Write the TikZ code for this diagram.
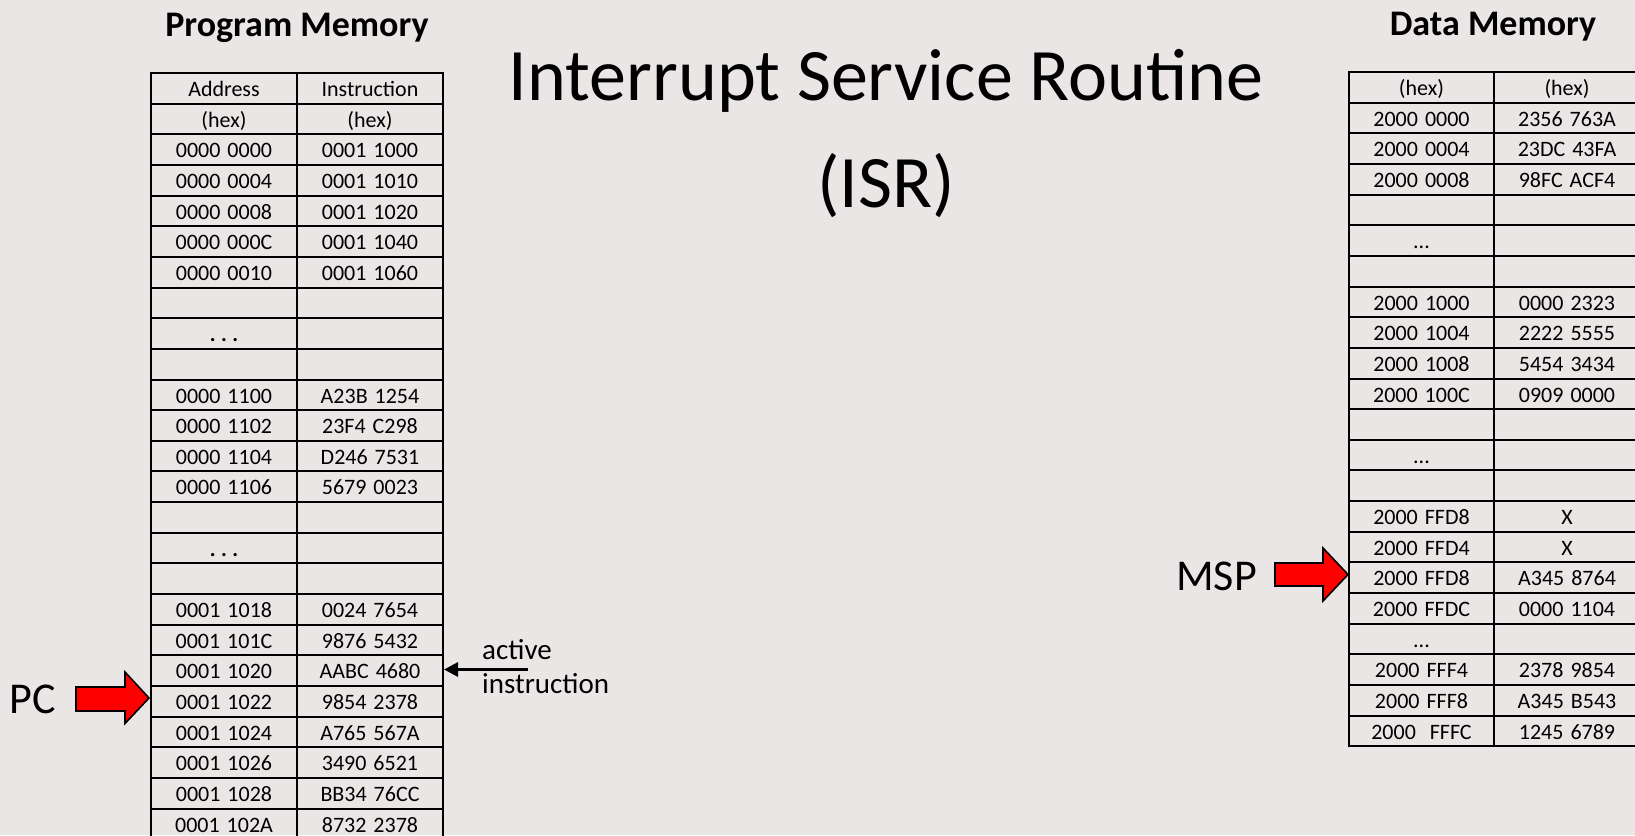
\documentclass[tikz,border=0pt]{standalone}
\usepackage{fontspec}
\setmainfont{Carlito}
\newfontfamily\tabfont{Carlito}[WordSpace=1.4]
\usetikzlibrary{arrows.meta}
\definecolor{bgc}{RGB}{234,230,229}
\definecolor{arrowred}{RGB}{255,0,0}
\begin{document}
\begin{tikzpicture}[x=1bp,y=-1bp,
  cell/.style={draw=black,line width=2bp,minimum width=146bp,minimum height=30.65bp,
    inner sep=0pt,text height=20bp,text depth=3.6bp,anchor=north west,
    font=\tabfont\fontsize{22bp}{26bp}\selectfont},
  lbl/.style={inner sep=0pt,anchor=base west},
  redarrow/.style={fill=arrowred,draw=black,line width=1.6bp,line join=miter},
  actarrow/.style={draw=black,line width=3bp,-{Triangle[length=14bp,width=14bp]}}]
\useasboundingbox (0,0) rectangle (1635,835);
\clip (0,0) rectangle (1635,835);
\fill[bgc] (0,0) rectangle (1635,835);

% titles
\node[font=\fontsize{74bp}{80bp}\selectfont,anchor=base,inner sep=0pt] (title) at (886,100) {Interrupt Service Routine};
\node[font=\fontsize{74bp}{80bp}\selectfont,anchor=base,inner sep=0pt] (isr) at (886,207) {(ISR)};
\node[font=\bfseries\fontsize{36bp}{40bp}\selectfont,anchor=base,inner sep=0pt] (pm) at (297,36) {Program Memory};
\node[font=\bfseries\fontsize{36bp}{40bp}\selectfont,anchor=base,inner sep=0pt] (dm) at (1493,35) {Data Memory};

% program memory table
\foreach \a/\b [count=\i from 0] in {
  Address/Instruction, {(hex)}/{(hex)},
  0000 0000/0001 1000, 0000 0004/0001 1010, 0000 0008/0001 1020,
  0000 000C/0001 1040, 0000 0010/0001 1060,
  {}/{}, {{\fontsize{27bp}{30bp}\selectfont .\,.\,.}}/{}, {}/{},
  0000 1100/A23B 1254, 0000 1102/23F4 C298, 0000 1104/D246 7531, 0000 1106/5679 0023,
  {}/{}, {{\fontsize{27bp}{30bp}\selectfont .\,.\,.}}/{}, {}/{},
  0001 1018/0024 7654, 0001 101C/9876 5432, 0001 1020/AABC 4680, 0001 1022/9854 2378,
  0001 1024/A765 567A, 0001 1026/3490 6521, 0001 1028/BB34 76CC, 0001 102A/8732 2378}
{
  \node[cell] (La\i) at (150,72+30.65*\i) {\a};
  \node[cell] (Lb\i) at (296,72+30.65*\i) {\b};
}

% data memory table
\foreach \a/\b [count=\i from 0] in {
  {(hex)}/{(hex)},
  2000 0000/2356 763A, 2000 0004/23DC 43FA, 2000 0008/98FC ACF4,
  {}/{}, {...}/{}, {}/{},
  2000 1000/0000 2323, 2000 1004/2222 5555, 2000 1008/5454 3434, 2000 100C/0909 0000,
  {}/{}, {...}/{}, {}/{},
  2000 FFD8/X, 2000 FFD4/X, 2000 FFD8/A345 8764, 2000 FFDC/0000 1104,
  {...}/{},
  2000 FFF4/2378 9854, 2000 FFF8/A345 B543, 2000~~FFFC/1245 6789}
{
  \node[cell,minimum width=145bp] (Ra\i) at (1348,71+30.65*\i) {\a};
  \node[cell] (Rb\i) at (1493,71+30.65*\i) {\b};
}

% PC pointer
\node[lbl,font=\fontsize{44bp}{48bp}\selectfont] (pc) at (9.5,713) {PC};
\draw[redarrow] (76,687) -- (125,687) -- (125,672) -- (149,698) -- (125,723.5) -- (125,711) -- (76,711) -- cycle;

% MSP pointer
\node[lbl,font=\fontsize{44bp}{48bp}\selectfont] (msp) at (1176,590) {MSP};
\draw[redarrow] (1275,563) -- (1323,563) -- (1323,548) -- (1348,574.5) -- (1323,601) -- (1323,586) -- (1275,586) -- cycle;

% active instruction
\node[lbl,font=\fontsize{29bp}{34bp}\selectfont] (act1) at (482,659) {active};
\node[lbl,font=\fontsize{29bp}{34bp}\selectfont] (act2) at (482,693) {instruction};
\coordinate (actstart) at (528,669.5);
\draw[actarrow] (actstart) -- (actstart -| Lb19.east);
\end{tikzpicture}
\end{document}
